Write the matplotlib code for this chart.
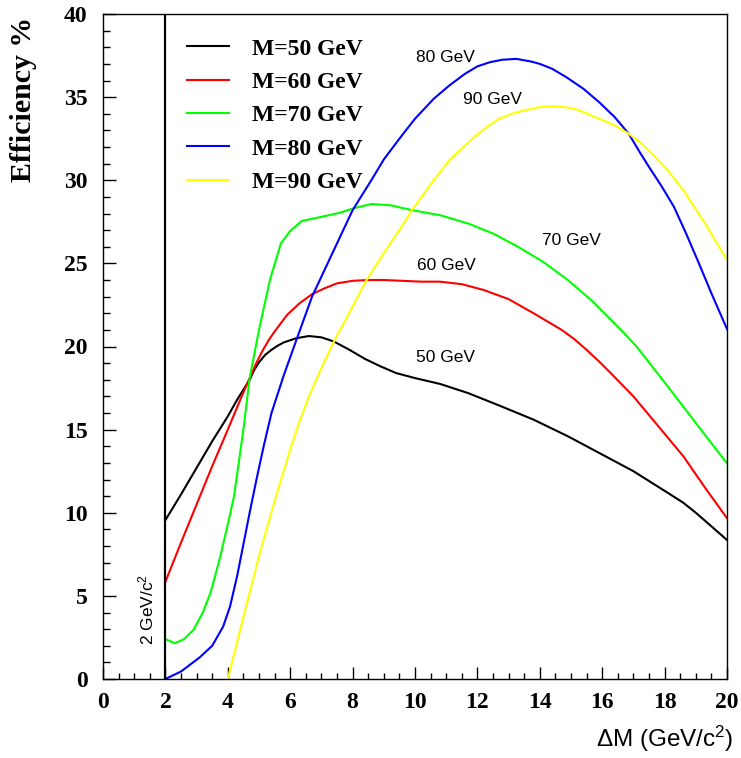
import numpy as np
import matplotlib
matplotlib.use('Agg')
import matplotlib.pyplot as plt
from matplotlib.ticker import MultipleLocator

# wartosci (dM w GeV/c^2, wydajnosc w %)
dm_50 = [2, 2.5, 3, 3.5, 4, 4.3, 4.7, 4.85, 5.0, 5.2, 5.4, 5.6, 5.8, 6.2, 6.6, 7.0, 7.4, 7.9, 8.4,
         8.9, 9.4, 10, 10.8, 11.7, 12.7, 13.8, 14.9, 15.9, 17.0, 18.1, 18.6, 19.0, 19.4, 20]
eff_50 = [9.56, 11.1, 12.7, 14.3, 15.8, 16.8, 18.0, 18.6, 19.05, 19.5, 19.8, 20.05, 20.25, 20.5,
          20.63, 20.55, 20.3, 19.8, 19.25, 18.8, 18.4, 18.1, 17.75, 17.2, 16.45, 15.6, 14.6, 13.6,
          12.5, 11.2, 10.6, 10.0, 9.35, 8.36]

dm_60 = [2, 2.5, 3, 3.5, 4, 4.4, 4.7, 4.9, 5.1, 5.3, 5.5, 5.9, 6.3, 6.7, 7.1, 7.5, 8.0, 8.5, 9.0,
         9.6, 10.2, 10.8, 11.5, 12.2, 13.0, 13.8, 14.7, 15.1, 15.5, 15.9, 16.3, 17.0, 17.8, 18.2,
         18.6, 19.3, 20]
eff_60 = [5.85, 8.2, 10.5, 12.8, 15.0, 16.8, 18.1, 18.95, 19.7, 20.35, 20.9, 21.9, 22.6, 23.15, 23.5,
          23.8, 23.95, 24.0, 24.0, 23.95, 23.9, 23.9, 23.75, 23.4, 22.85, 22.0, 21.0, 20.45, 19.8,
          19.1, 18.35, 17.0, 15.2, 14.3, 13.4, 11.5, 9.67]

dm_70 = [2, 2.3, 2.6, 2.9, 3.2, 3.45, 3.75, 4.0, 4.2, 4.35, 4.5, 4.7, 5.0, 5.35, 5.7, 6.0, 6.37, 7.0,
         7.6, 8.0, 8.6, 9.2, 9.9, 10.8, 11.7, 12.5, 13.3, 14.1, 14.9, 15.7, 16.6, 17.1, 18.1, 19.0, 20]
eff_70 = [2.4, 2.15, 2.4, 2.95, 4.0, 5.2, 7.3, 9.3, 11.0, 13.0, 15.0, 18.1, 21.0, 24.0, 26.2, 26.95,
          27.55, 27.8, 28.05, 28.3, 28.57, 28.5, 28.2, 27.9, 27.4, 26.8, 26.0, 25.1, 24.0, 22.7,
          21.0, 20.0, 17.6, 15.4, 12.97]

dm_80 = [2, 2.5, 3.1, 3.5, 3.85, 4.07, 4.3, 4.5, 4.7, 4.93, 5.15, 5.4, 5.8, 6.2, 6.7, 7.2, 7.6, 8.0,
         8.6, 9.0, 9.5, 10.0, 10.6, 11.1, 11.6, 12.0, 12.4, 12.8, 13.25, 13.7, 14.0, 14.4, 14.85,
         15.4, 15.9, 16.4, 16.85, 17.2, 17.5, 17.9, 18.3, 18.7, 19.1, 19.5, 20]
eff_80 = [0.0, 0.45, 1.3, 2.0, 3.15, 4.35, 6.2, 8.1, 10.0, 12.1, 14.0, 16.0, 18.3, 20.4, 23.0, 25.0,
          26.6, 28.2, 30.0, 31.25, 32.5, 33.7, 34.9, 35.7, 36.4, 36.85, 37.1, 37.25, 37.3, 37.15,
          37.0, 36.7, 36.2, 35.5, 34.7, 33.8, 32.8, 31.7, 30.8, 29.65, 28.4, 26.75, 25.0, 23.2, 21.05]

dm_90 = [4.0, 4.55, 5.03, 5.5, 6.0, 6.3, 6.6, 7.0, 7.4, 8.0, 8.45, 9.1, 9.5, 9.9, 10.6, 11.1, 11.5,
         11.9, 12.3, 12.7, 13.1, 13.5, 14.0, 14.4, 14.8, 15.2, 15.9, 16.4, 16.85, 17.2, 17.6, 18.1,
         18.6, 19.3, 20]
eff_90 = [0.0, 4.1, 7.6, 10.7, 13.8, 15.5, 17.0, 18.7, 20.3, 22.4, 24.0, 25.9, 27.0, 28.2, 30.0,
          31.2, 31.9, 32.6, 33.2, 33.7, 34.0, 34.2, 34.4, 34.45, 34.4, 34.25, 33.7, 33.3, 32.8,
          32.3, 31.6, 30.6, 29.4, 27.4, 25.2]

etykiety = ['M=50 GeV', 'M=60 GeV', 'M=70 GeV', 'M=80 GeV', 'M=90 GeV']
kolory = ['#000000', '#ff0000', '#00ff00', '#0000ff', '#ffff00']
krzywe = [(dm_50, eff_50), (dm_60, eff_60), (dm_70, eff_70), (dm_80, eff_80), (dm_90, eff_90)]

# podpisy przy krzywych
opisy = ['50 GeV', '60 GeV', '70 GeV', '80 GeV', '90 GeV']
opisy_x = [10.03, 10.05, 14.06, 10.03, 11.54]
opisy_y = [19.34, 24.87, 26.4, 37.4, 34.86]

plt.rcParams['mathtext.fontset'] = 'custom'
plt.rcParams['mathtext.rm'] = 'Liberation Sans'
plt.rcParams['mathtext.default'] = 'rm'

fig = plt.figure(figsize=(7.41, 7.58), dpi=100)
ax = fig.add_axes([103 / 741, 79 / 758, 624 / 741, 665 / 758])

for (x, y), kol, lab in zip(krzywe, kolory, etykiety):
    ax.plot(x, y, color=kol, lw=1.5, label=lab, solid_joinstyle='round')

ax.axvline(2, color='black', lw=1.6)

for tekst, tx, ty in zip(opisy, opisy_x, opisy_y):
    ax.text(tx, ty, tekst, ha='left', va='center', fontsize=12.5, family='Liberation Sans')

ax.text(1.38, 2.05, '2 GeV/c$^2$', rotation=90, ha='center', va='bottom',
        fontsize=12.5, family='Liberation Sans')

ax.set_xlim(0, 20)
ax.set_ylim(0, 40)
ax.xaxis.set_major_locator(MultipleLocator(2))
ax.xaxis.set_minor_locator(MultipleLocator(0.5))
ax.yaxis.set_major_locator(MultipleLocator(5))
ax.yaxis.set_minor_locator(MultipleLocator(1))
ax.tick_params(which='both', direction='in', top=False, right=False, width=1)
ax.tick_params(axis='x', which='major', length=8.5, pad=9)
ax.tick_params(axis='x', which='minor', length=4)
ax.tick_params(axis='y', which='major', length=9.5, pad=11)
ax.tick_params(axis='y', which='minor', length=5)
for lbl in ax.get_xticklabels() + ax.get_yticklabels():
    lbl.set_family('Liberation Serif')
    lbl.set_fontweight('bold')
    lbl.set_fontsize(17)
for sp in ax.spines.values():
    sp.set_linewidth(1)

ax.set_ylabel('Efficiency %', family='Liberation Serif', fontweight='bold', fontsize=21.5, va='center')
ax.yaxis.set_label_coords(-0.127, 0.871)
ax.set_xlabel(r'$\Delta$M (GeV/c$^2$)', family='Liberation Sans', fontsize=17.5, ha='right', va='center')
ax.xaxis.set_label_coords(1.01, -0.09)

leg = ax.legend(loc='upper left', bbox_to_anchor=(0.12, 0.978), frameon=False,
                prop={'family': 'Liberation Serif', 'weight': 'bold', 'size': 17},
                handlelength=1.75, handletextpad=1.0, labelspacing=0.5, borderaxespad=0)

fig.savefig('out.png', dpi=100)
